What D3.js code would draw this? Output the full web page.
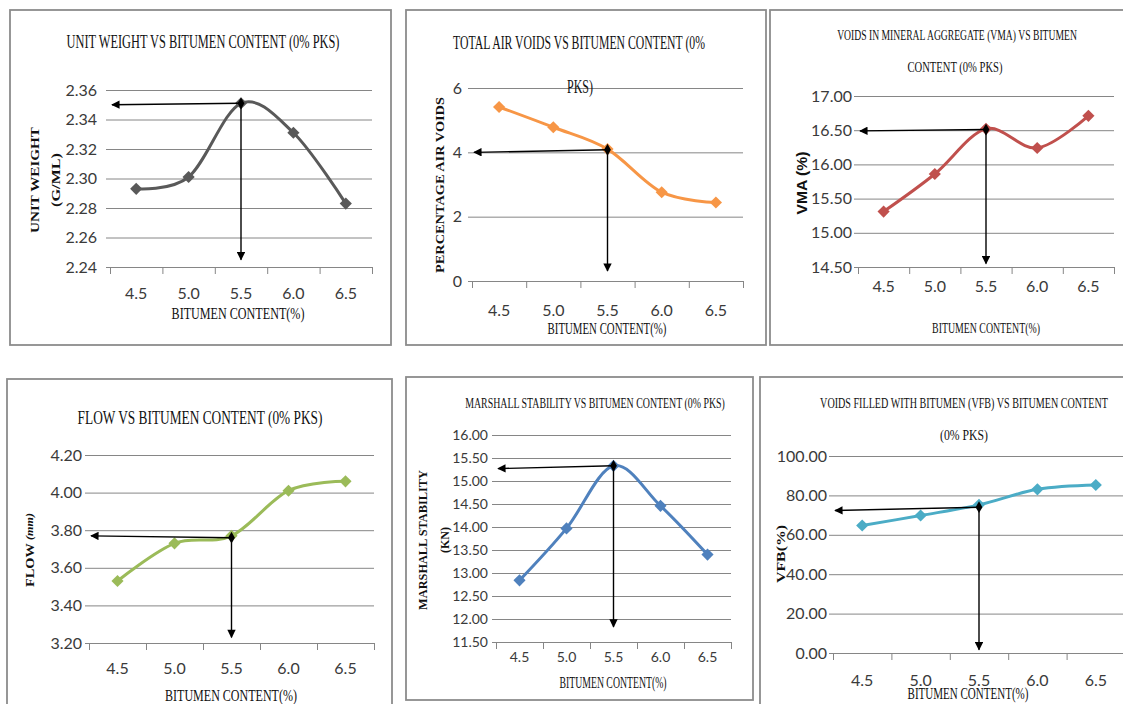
<!DOCTYPE html>
<html>
<head>
<meta charset="utf-8">
<script src="https://cdn.jsdelivr.net/npm/d3@7"></script>
<style>
  html, body { margin: 0; padding: 0; background: #fff; }
  svg { display: block; }
</style>
</head>
<body>
<svg id="chart" width="1123" height="704"></svg>
<script>
// Bitumen content categories shared by all six Marshall design plots
const categories = ["4.5", "5.0", "5.5", "6.0", "6.5"];

// Measured properties at each bitumen content (0% PKS mix)
const unitWeight = [2.293, 2.301, 2.351, 2.331, 2.283];
const airVoids   = [5.41, 4.78, 4.10, 2.76, 2.44];
const vma        = [15.31, 15.86, 16.52, 16.24, 16.71];
const flow       = [3.53, 3.73, 3.77, 4.01, 4.06];
const stability  = [12.84, 13.97, 15.33, 14.46, 13.40];
const vfb        = [64.7, 69.8, 75.2, 83.1, 85.3];

// Y tick values for each plot
const unitWeightTicks = [2.24, 2.26, 2.28, 2.30, 2.32, 2.34, 2.36];
const airVoidsTicks   = [0, 2, 4, 6];
const vmaTicks        = [14.5, 15.0, 15.5, 16.0, 16.5, 17.0];
const flowTicks       = [3.2, 3.4, 3.6, 3.8, 4.0, 4.2];
const stabilityTicks  = [11.5, 12.0, 12.5, 13.0, 13.5, 14.0, 14.5, 15.0, 15.5, 16.0];
const vfbTicks        = [0, 20, 40, 60, 80, 100];

// Optimum binder read-off at 5.5 %: point on curve, value read on the y axis, foot of the drop line
const readOffCategory = "5.5";
const unitWeightReadOff = [2.351, 2.350, 2.245];
const airVoidsReadOff   = [4.08, 4.00, 0.31];
const vmaReadOff        = [16.51, 16.49, 14.55];
const flowReadOff       = [3.76, 3.77, 3.23];
const stabilityReadOff  = [15.33, 15.27, 11.83];
const vfbReadOff        = [74.0, 72.3, 1.7];

const SERIF = "'Liberation Serif', 'DejaVu Serif', serif";
const NARROW = "'Liberation Sans Narrow', 'Lato', 'Liberation Sans', sans-serif";
const SANS = "'Liberation Sans', 'Lato', sans-serif";

const panels = [
  {
    values: unitWeight, ticks: unitWeightTicks, readOff: unitWeightReadOff, fmt: ".2f", color: "#595959",
    box: [10, 10, 391, 345], plot: [110, 90, 372, 267], labelRight: 97, tickFs: 16, xTickY: 293,
    titles: [{ t: "UNIT WEIGHT VS BITUMEN CONTENT (0% PKS)", x: 203, y: 42, w: 273, fs: 18 }],
    yLabels: [{ t: "UNIT WEIGHT", x: 34, y: 180, len: 106, fs: 13 }, { t: "(G/ML)", x: 56, y: 180, len: 54, fs: 13 }],
    xTitle: { x: 238, y: 313, w: 133, fs: 17 }
  },
  {
    values: airVoids, ticks: airVoidsTicks, readOff: airVoidsReadOff, fmt: "d", color: "#F79646",
    box: [406, 10, 766, 345], plot: [472, 88, 743, 281], labelRight: 462, tickFs: 16, xTickY: 310,
    titles: [{ t: "TOTAL AIR VOIDS VS BITUMEN CONTENT (0%", x: 579, y: 42, w: 252, fs: 18 },
             { t: "PKS)", x: 580, y: 87, w: 26, fs: 18 }],
    yLabels: [{ t: "PERCENTAGE AIR VOIDS", x: 440, y: 185, len: 176, fs: 13 }],
    xTitle: { x: 607, y: 328, w: 119, fs: 17 }
  },
  {
    values: vma, ticks: vmaTicks, readOff: vmaReadOff, fmt: ".2f", color: "#C0504D",
    box: [770, 10, 1135, 345], plot: [858, 96, 1114, 267], labelRight: 852, tickFs: 16, xTickY: 286,
    titles: [{ t: "VOIDS IN MINERAL AGGREGATE (VMA) VS BITUMEN", x: 957, y: 35, w: 240, fs: 15 },
             { t: "CONTENT (0% PKS)", x: 955, y: 67, w: 95, fs: 15 }],
    yLabels: [{ t: "VMA (%)", x: 802, y: 183, len: 63, fs: 15, sans: true }],
    xTitle: { x: 986, y: 328, w: 108, fs: 15 }
  },
  {
    values: flow, ticks: flowTicks, readOff: flowReadOff, fmt: ".2f", color: "#9BBB59",
    box: [7, 379, 392, 720], plot: [89, 455, 374, 643], labelRight: 82, tickFs: 16, xTickY: 668,
    titles: [{ t: "FLOW VS BITUMEN CONTENT (0% PKS)", x: 200, y: 418, w: 245, fs: 18 }],
    yLabels: [{ t: "FLOW", unit: "(mm)", x: 29, y: 550, len: 74, fs: 13 }],
    xTitle: { x: 231, y: 695, w: 132, fs: 17 }
  },
  {
    values: stability, ticks: stabilityTicks, readOff: stabilityReadOff, fmt: ".2f", color: "#4F81BD",
    box: [406, 377, 753, 700], plot: [496, 435, 731, 642], labelRight: 488, tickFs: 14, xTickY: 657,
    titles: [{ t: "MARSHALL STABILITY VS BITUMEN CONTENT (0% PKS)", x: 595, y: 403, w: 260, fs: 15 }],
    yLabels: [{ t: "MARSHALL STABILITY", x: 423, y: 540, len: 140, fs: 13 }, { t: "(KN)", x: 445, y: 540, len: 26, fs: 13 }],
    xTitle: { x: 613, y: 683, w: 107, fs: 16 }
  },
  {
    values: vfb, ticks: vfbTicks, readOff: vfbReadOff, fmt: ".2f", color: "#4BACC6",
    box: [760, 377, 1135, 720], plot: [833, 456, 1125, 653], labelRight: 827, tickFs: 16, xTickY: 680,
    titles: [{ t: "VOIDS FILLED WITH BITUMEN (VFB) VS BITUMEN CONTENT", x: 964, y: 403, w: 288, fs: 15 },
             { t: "(0% PKS)", x: 964, y: 435, w: 48, fs: 15 }],
    yLabels: [{ t: "VFB(%)", x: 781, y: 554, len: 58, fs: 13 }],
    xTitle: { x: 968, y: 694, w: 121, fs: 16 }
  }
];

const svg = d3.select("#chart");
svg.append("rect").attr("width", 1123).attr("height", 704).attr("fill", "#fff");

// Arrowhead used by the read-off lines
const defs = svg.append("defs");
defs.append("marker")
  .attr("id", "arrowhead")
  .attr("viewBox", "0 0 10 10")
  .attr("refX", 9).attr("refY", 5)
  .attr("markerWidth", 7).attr("markerHeight", 6)
  .attr("markerUnits", "strokeWidth")
  .attr("orient", "auto")
  .append("path").attr("d", "M0,0 L10,5 L0,10 Z").attr("fill", "#000");

const diamond = d3.symbol(d3.symbolSquare, 74);
const blackDiamond = d3.symbol(d3.symbolDiamond, 40);

// Condensed text: draw at natural width, then squeeze horizontally to the wanted width
function condensedText(parent, cfg) {
  const t = parent.append("text")
    .attr("x", 0).attr("y", 0)
    .attr("text-anchor", "middle").attr("dominant-baseline", "central")
    .attr("font-family", cfg.family).attr("font-size", cfg.fs)
    .attr("font-weight", cfg.weight || "normal").attr("fill", "#111");
  if (cfg.unit) {
    t.append("tspan").text(cfg.text + " ");
    t.append("tspan").attr("font-style", "italic").attr("font-size", cfg.fs - 2).text(cfg.unit);
  } else {
    t.text(cfg.text);
  }
  const natural = t.node().getComputedTextLength() || cfg.width;
  const s = cfg.width / natural;
  t.attr("transform", `translate(${cfg.x},${cfg.y})${cfg.rotate ? " rotate(-90)" : ""} scale(${s},1)`);
  return t;
}

panels.forEach(p => {
  const [bx0, by0, bx1, by1] = p.box;
  const [L, T, R, B] = p.plot;
  const g = svg.append("g");

  // panel frame
  g.append("rect")
    .attr("x", bx0).attr("y", by0)
    .attr("width", bx1 - bx0).attr("height", by1 - by0)
    .attr("fill", "none").attr("stroke", "#8c8c8c").attr("stroke-width", 1.8);

  const x = d3.scaleBand().domain(categories).range([L, R]);
  const xEdge = d3.scaleLinear().domain([0, categories.length]).range([L, R]);
  const y = d3.scaleLinear().domain(d3.extent(p.ticks)).range([B, T]);

  // horizontal gridlines + y labels
  const yAxis = d3.axisLeft(y)
    .tickValues(p.ticks)
    .tickFormat(d3.format(p.fmt))
    .tickSizeInner(-(R - L + 4))
    .tickSizeOuter(0)
    .tickPadding(L - 4 - p.labelRight);
  const ya = g.append("g").attr("transform", `translate(${L - 4},0)`).call(yAxis);
  ya.select(".domain").remove();
  ya.selectAll(".tick line").attr("stroke", "#868686").attr("stroke-width", 1);
  ya.selectAll(".tick text")
    .attr("font-family", NARROW).attr("font-size", p.tickFs).attr("fill", "#3a3a3a");

  // category boundary ticks on the x axis
  const xTickAxis = d3.axisBottom(xEdge)
    .tickValues(d3.range(categories.length + 1))
    .tickFormat("")
    .tickSizeInner(7).tickSizeOuter(0);
  const xa = g.append("g").attr("transform", `translate(0,${B})`).call(xTickAxis);
  xa.select(".domain").attr("stroke", "#868686");
  xa.selectAll(".tick line").attr("stroke", "#868686");

  // category labels
  const xLabelAxis = d3.axisBottom(x).tickSize(0).tickPadding(0);
  const xl = g.append("g").attr("transform", `translate(0,${p.xTickY})`).call(xLabelAxis);
  xl.select(".domain").remove();
  xl.selectAll(".tick text")
    .attr("dy", "0.35em").attr("y", 0)
    .attr("font-family", NARROW).attr("font-size", p.tickFs).attr("fill", "#3a3a3a");

  // titles
  p.titles.forEach(t => {
    condensedText(g, { text: t.t, x: t.x, y: t.y, width: t.w, fs: t.fs, family: SERIF });
  });

  // y axis title (rotated)
  p.yLabels.forEach(l => {
    condensedText(g, {
      text: l.t, unit: l.unit, x: l.x, y: l.y, width: l.len, fs: l.fs,
      family: l.sans ? SANS : SERIF, weight: "bold", rotate: true
    });
  });

  // x axis title
  condensedText(g, { text: "BITUMEN CONTENT(%)", x: p.xTitle.x, y: p.xTitle.y, width: p.xTitle.w, fs: p.xTitle.fs, family: SERIF });

  // smoothed series line
  const pts = categories.map((c, i) => [x(c) + x.bandwidth() / 2, y(p.values[i])]);
  g.append("path")
    .attr("d", d3.line().curve(d3.curveCardinal)(pts))
    .attr("fill", "none").attr("stroke", p.color).attr("stroke-width", 3)
    .attr("stroke-linejoin", "round");

  g.selectAll(".mk").data(pts).join("path")
    .attr("transform", d => `translate(${d[0]},${d[1]}) rotate(45)`)
    .attr("d", diamond)
    .attr("fill", p.color);

  // read-off arrows at the optimum binder content
  const [onCurve, level, foot] = p.readOff;
  const cx = x(readOffCategory) + x.bandwidth() / 2;
  g.append("line")
    .attr("x1", cx).attr("y1", y(onCurve))
    .attr("x2", L + 2).attr("y2", y(level))
    .attr("stroke", "#000").attr("stroke-width", 1.4)
    .attr("marker-end", "url(#arrowhead)");
  g.append("line")
    .attr("x1", cx).attr("y1", y(onCurve))
    .attr("x2", cx).attr("y2", y(foot))
    .attr("stroke", "#000").attr("stroke-width", 1.4)
    .attr("marker-end", "url(#arrowhead)");
  g.append("path")
    .attr("transform", `translate(${cx},${y(onCurve)})`)
    .attr("d", blackDiamond)
    .attr("fill", "#000");
});
</script>
</body>
</html>
